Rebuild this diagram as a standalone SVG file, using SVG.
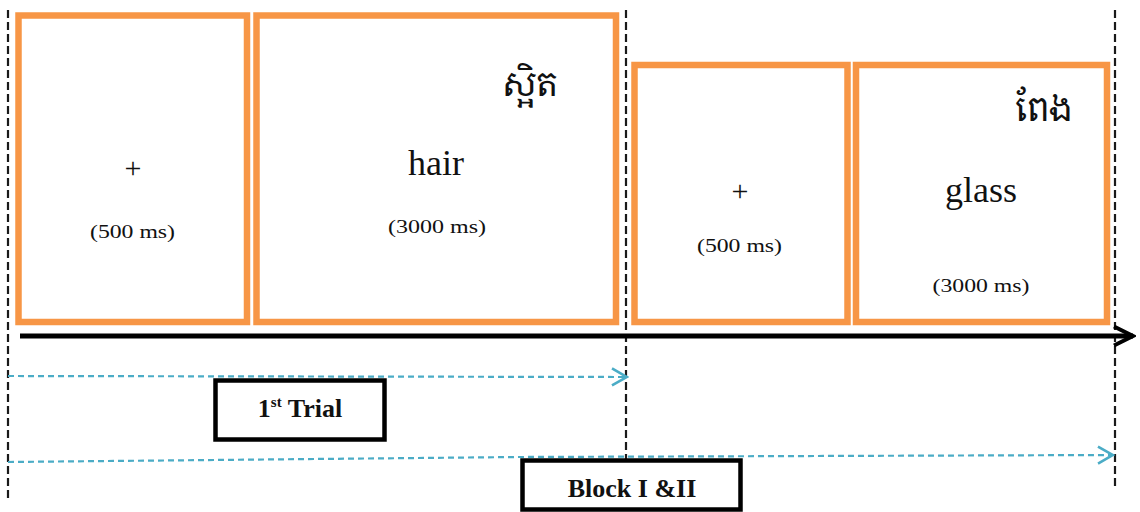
<svg xmlns="http://www.w3.org/2000/svg" width="1140" height="512" viewBox="0 0 1140 512">
<style>
.frame{fill:none;stroke:#F79646;stroke-width:6.5}
.vdash{fill:none;stroke:#1a1a1a;stroke-width:2.2;stroke-dasharray:8 4}
.cdash{fill:none;stroke:#4BACC6;stroke-width:2.2;stroke-dasharray:6 4}
.lbl{fill:#fff;stroke:#000;stroke-width:4.5}
.t{font-family:"Liberation Serif","Times New Roman",serif;fill:#111;text-anchor:middle}
.ms{font-size:19px}
.big{font-size:36px}
.plus{font-size:30px}
.b{font-weight:bold;font-size:26px}
.km{font-family:"Noto Serif Khmer","Noto Sans Khmer","Khmer OS","Khmer OS System",serif;font-size:34px;fill:#111;text-anchor:middle}
</style>
<defs>
<marker id="cyanHead" markerUnits="userSpaceOnUse" viewBox="0 0 18 20" markerWidth="18" markerHeight="20" refX="16" refY="10" orient="auto">
<path d="M1,1.5 L16,10 L1,18.5" fill="none" stroke="#4BACC6" stroke-width="2.6"/>
</marker>
<marker id="blackHead" markerUnits="userSpaceOnUse" viewBox="0 0 24 24" markerWidth="24" markerHeight="24" refX="21" refY="12" orient="auto">
<path d="M2,2.5 L21,12 L2,21.5" fill="none" stroke="#000" stroke-width="4"/>
</marker>
</defs>
<rect width="1140" height="512" fill="#fff"/>

<g id="connectors">
<line class="vdash" x1="8" y1="10" x2="8" y2="500"/>
<line class="vdash" x1="626" y1="10" x2="626" y2="460"/>
<line class="vdash" x1="1115" y1="10" x2="1115" y2="488"/>
<line x1="20" y1="336" x2="1133" y2="336" stroke="#000" stroke-width="5" marker-end="url(#blackHead)"/>
<line class="cdash" x1="8" y1="376" x2="627" y2="377" marker-end="url(#cyanHead)"/>
<path class="cdash" d="M8,462 L520,457 L1113,455" marker-end="url(#cyanHead)"/>
</g>

<g id="fixation1">
<rect class="frame" x="18.5" y="15.5" width="228.5" height="306.5"/>
<text class="t plus" x="133" y="178">+</text>
<text class="t ms" x="132.5" y="238" textLength="85" lengthAdjust="spacingAndGlyphs">(500 ms)</text>
</g>

<g id="word1">
<rect class="frame" x="256.5" y="15.5" width="359.5" height="306.5"/>
<text class="km" x="530" y="96">ស្អិត</text>
<text class="t big" x="436" y="175">hair</text>
<text class="t ms" x="437" y="233" textLength="98" lengthAdjust="spacingAndGlyphs">(3000 ms)</text>
</g>

<g id="fixation2">
<rect class="frame" x="634.5" y="65" width="213" height="257"/>
<text class="t plus" x="740" y="201">+</text>
<text class="t ms" x="739.5" y="252" textLength="85" lengthAdjust="spacingAndGlyphs">(500 ms)</text>
</g>

<g id="word2">
<rect class="frame" x="856" y="65" width="251" height="257"/>
<text class="km" x="1044" y="121">ពែង</text>
<text class="t big" x="981" y="202">glass</text>
<text class="t ms" x="981" y="292" textLength="97" lengthAdjust="spacingAndGlyphs">(3000 ms)</text>
</g>

<g id="trial">
<rect class="lbl" x="215.5" y="380.5" width="169" height="59"/>
<text class="t b" x="300" y="417">1<tspan font-size="15" dy="-10">st</tspan><tspan dy="10"> Trial</tspan></text>
</g>

<g id="block">
<rect class="lbl" x="522.5" y="460.5" width="218" height="49"/>
<text class="t b" x="632" y="497" font-size="27">Block I &amp;II</text>
</g>
</svg>
